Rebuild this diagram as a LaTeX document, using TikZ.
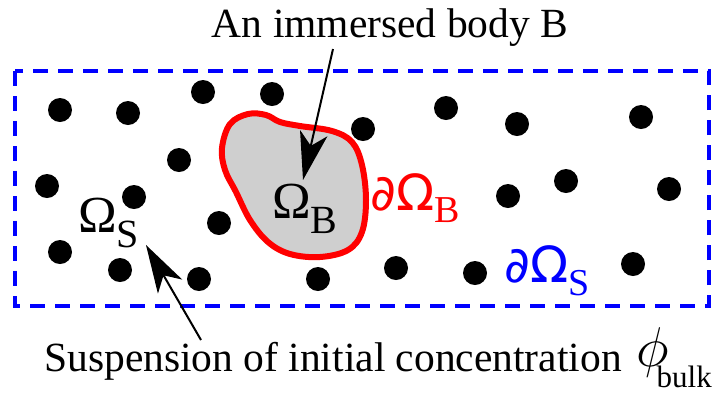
\RequirePackage{fix-cm}
\documentclass[tikz,border=0pt]{standalone}
\usepackage{fontspec}
\setmainfont{Liberation Serif}
\newfontfamily\dvsans{DejaVu Sans}
\usepackage{tikz}
\usetikzlibrary{arrows.meta,positioning}

\newcommand{\lowsub}[3]{\raisebox{-#1}{\fontsize{#2}{#2}\selectfont #3}}

\begin{document}
\begin{tikzpicture}[x=1pt, y=-1pt,
    suspbox/.style={draw=blue, line width=4.5pt, dash pattern=on 15pt off 10pt},
    bodyshape/.style={draw=red, fill=black!19, line width=6pt},
    txt/.style={inner sep=0pt, font=\fontsize{41.5}{46}\selectfont},
    sym/.style={inner sep=0pt, font=\fontsize{52}{56}\selectfont},
    pointer/.style={-{Stealth[length=48pt, width=28pt, inset=13pt]}, line width=2pt}
]

\useasboundingbox (0,0) rectangle (712,392);

% suspension domain
\draw[suspbox] (15,71) rectangle (709,306);

\foreach \px/\py in {60/110, 128/113, 203/92, 272/94, 179/160, 47/186, 134/197, 219/223,
    60/252, 120/270, 199/279, 318/279, 363/129, 446/108, 517/124, 641/117,
    508/196, 566/181, 669/189, 396/268, 475/273, 633/264}
    \fill (\px,\py) circle (12pt);

% immersed body
\draw[bodyshape] plot[smooth cycle, tension=0.6] coordinates {
    (222,148) (230,124) (248,114) (266,115) (280,122) (300,126) (332,131)
    (352,142) (362,165) (366,200) (362,232) (348,250) (320,257) (290,254)
    (268,242) (250,220) (236,192) (225,170)};

\node[sym, anchor=base west] (omegaB) at (272,218) {Ω\lowsub{15pt}{40}{B}};
\node[sym, anchor=base west, red] (dOmegaB) at (370,210) {{\dvsans\fontsize{50}{54}\selectfont ∂Ω}\lowsub{12pt}{38}{B}};
\node[sym, anchor=base west] (omegaS) at (78,232) {Ω\lowsub{15pt}{40}{S}};
\node[sym, anchor=base west, blue] (dOmegaS) at (504,282) {{\dvsans\fontsize{50}{54}\selectfont ∂Ω}\lowsub{13pt}{38}{S}};

\node[txt, anchor=base] (bodytxt) at (390,37) {An immersed body B};
\node[txt, anchor=base] (susptxt) at (333,371) {Suspension of initial concentration};
\node[sym, anchor=base west] (phibulk) at (636,366) {\fontsize{56}{60}\selectfont$\phi$\kern-12pt\lowsub{21pt}{31}{bulk}};

\coordinate (bodytail) at (333,49);
\coordinate (bodytip) at (303,180);
\coordinate (susptail) at (201,340);
\coordinate (susptip) at (146,245);

\draw[pointer] (bodytail) -- (bodytip);
\draw[pointer] (susptail) -- (susptip);

\end{tikzpicture}
\end{document}
